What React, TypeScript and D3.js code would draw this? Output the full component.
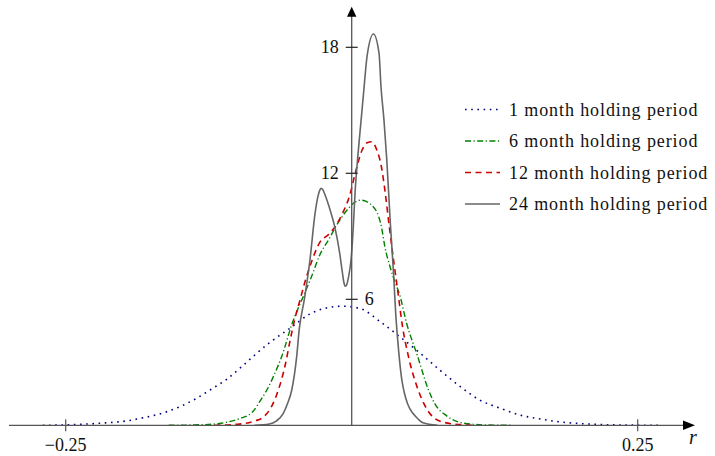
import React from 'react';
import * as d3 from 'd3';

// values: [r, density]
const oneMonth: [number, number][] = [
  [-0.27, 0], [-0.24, 0.04], [-0.22, 0.1], [-0.198, 0.2], [-0.182, 0.36], [-0.166, 0.57],
  [-0.15, 0.89], [-0.1355, 1.29], [-0.1224, 1.73], [-0.109, 2.2], [-0.096, 2.8], [-0.083, 3.43],
  [-0.0714, 3.95], [-0.054, 4.62], [-0.0365, 5.3], [-0.025, 5.55], [-0.008, 5.67], [0.007, 5.57],
  [0.025, 4.93], [0.042, 4.22], [0.06, 3.43], [0.077, 2.63], [0.095, 1.84], [0.112, 1.2],
  [0.13, 0.81], [0.147, 0.49], [0.165, 0.3], [0.182, 0.16], [0.2, 0.08], [0.23, 0.02], [0.268, 0],
];

const sixMonth: [number, number][] = [
  [-0.16, 0], [-0.13, 0.03], [-0.114, 0.1], [-0.099, 0.3], [-0.087, 0.62], [-0.079, 1.25],
  [-0.073, 1.8], [-0.067, 2.5], [-0.061, 3.3], [-0.052, 4.86], [-0.045, 5.8], [-0.041, 6.3],
  [-0.035, 7.1], [-0.028, 8.1], [-0.02, 8.85], [-0.013, 9.55], [-0.004, 10.25], [0.002, 10.6],
  [0.008, 10.72], [0.013, 10.65], [0.018, 10.45], [0.022, 10.15], [0.026, 9.45], [0.029, 8.5],
  [0.0335, 7.55], [0.038, 6.8], [0.042, 6.2], [0.048, 4.86], [0.0577, 3.27], [0.067, 1.7],
  [0.073, 1.0], [0.083, 0.45], [0.096, 0.12], [0.115, 0.02], [0.14, 0],
];

const twelveMonth: [number, number][] = [
  [-0.12, 0], [-0.1, 0.05], [-0.085, 0.2], [-0.077, 0.4], [-0.07, 0.9], [-0.064, 1.7],
  [-0.058, 2.9], [-0.054, 4.0], [-0.05, 5.0], [-0.045, 6.0], [-0.041, 6.8], [-0.035, 7.8],
  [-0.028, 8.7], [-0.02, 9.1], [-0.014, 9.5], [-0.008, 10.1], [-0.002, 10.9], [0.004, 12.2],
  [0.009, 13.1], [0.0135, 13.45], [0.0175, 13.5], [0.022, 13.1], [0.026, 12.3], [0.029, 11.2],
  [0.033, 9.4], [0.0365, 7.9], [0.0405, 6.3], [0.044, 4.85], [0.0495, 3.3], [0.058, 1.7],
  [0.07, 0.45], [0.08, 0.15], [0.095, 0.03], [0.105, 0],
];

const twentyFourMonth: [number, number][] = [
  [-0.085, 0], [-0.072, 0.06], [-0.066, 0.2], [-0.0598, 0.57], [-0.056, 1.05], [-0.0524, 1.68],
  [-0.0481, 3.27], [-0.0458, 4.6], [-0.0414, 6.0], [-0.0365, 7.87], [-0.032, 10.1], [-0.0295, 10.9],
  [-0.0282, 11.15], [-0.0268, 11.28], [-0.0252, 11.22], [-0.0235, 11.0], [-0.02, 10.45],
  [-0.0146, 9.4], [-0.0105, 8.2], [-0.0082, 7.3], [-0.0068, 6.8], [-0.0056, 6.62], [-0.0043, 6.7],
  [-0.003, 7.0], [-0.0006, 7.87], [0.0014, 9.46], [0.0029, 11.05], [0.0055, 12.9], [0.008, 14.4],
  [0.0105, 15.9], [0.0135, 17.6], [0.019, 18.63], [0.0239, 17.71], [0.0256, 16.12], [0.0282, 14.54],
  [0.0306, 12.7], [0.0338, 9.6], [0.0365, 7.3], [0.0385, 5.3], [0.04, 4.2], [0.042, 3.0],
  [0.044, 2.1], [0.046, 1.55], [0.049, 1.0], [0.0535, 0.57], [0.058, 0.3], [0.0623, 0.12], [0.075, 0],
];

const xTicks = [-0.25, 0.25];
const xTickLabels = ['\u22120.25', '0.25'];
const yTicks = [6, 12, 18];

const series = [
  { label: '1 month holding period', data: oneMonth, color: '#000080', dash: '1.6 4.6', width: 1.6 },
  { label: '6 month holding period', data: sixMonth, color: '#008000', dash: '6 2.5 1.2 2.5', width: 1.4 },
  { label: '12 month holding period', data: twelveMonth, color: '#cc0000', dash: '6 4.5', width: 1.6 },
  { label: '24 month holding period', data: twentyFourMonth, color: '#666666', dash: null, width: 1.6 },
];

const font = '"Liberation Serif", serif';

export default function App() {
  const width = 715;
  const height = 456;

  const x = d3.scaleLinear().domain([-0.25, 0.25]).range([65.7, 637.7]);
  const y = d3.scaleLinear().domain([0, 18]).range([425.3, 47.3]);

  const line = d3.line<[number, number]>()
    .x(d => x(d[0]))
    .y(d => y(d[1]))
    .curve(d3.curveMonotoneX);

  const x0 = x(0);
  const y0 = y(0);

  return (
    <svg width={width} height={height} style={{ position: 'absolute', left: 0, top: 0, background: '#fff' }}>
      {/* curves */}
      {series.map(s => (
        <path key={s.label} d={line(s.data) || ''} fill="none" stroke={s.color}
          strokeWidth={s.width} strokeDasharray={s.dash || undefined} />
      ))}

      {/* axes */}
      <line x1={9} x2={686} y1={y0} y2={y0} stroke="#555" strokeWidth={1.3} />
      <path d={`M695,${y0} L683,${y0 - 4.7} L683,${y0 + 4.7} Z`} fill="#000" />
      <line x1={x0} x2={x0} y1={y0} y2={15} stroke="#555" strokeWidth={1.3} />
      <path d={`M${x0},6.7 L${x0 - 4.7},16.7 L${x0 + 4.7},16.7 Z`} fill="#000" />

      {xTicks.map((t, i) => (
        <g key={t}>
          <line x1={x(t)} x2={x(t)} y1={y0 - 6} y2={y0 + 6} stroke="#555" strokeWidth={1.2} />
          <text x={x(t)} y={y0 + 20} textAnchor="middle" dominantBaseline="central"
            fontFamily={font} fontSize={18} fill="#111">{xTickLabels[i]}</text>
        </g>
      ))}
      {yTicks.map(t => (
        <g key={t}>
          <line x1={x0 - 6} x2={x0 + 6} y1={y(t)} y2={y(t)} stroke="#222" strokeWidth={1.2} />
          {t === 6 ? (
            <text x={x0 + 13} y={y(t)} textAnchor="start" dominantBaseline="central"
              fontFamily={font} fontSize={18} fill="#111">{t}</text>
          ) : (
            <text x={x0 - 13} y={y(t)} textAnchor="end" dominantBaseline="central"
              fontFamily={font} fontSize={18} fill="#111">{t}</text>
          )}
        </g>
      ))}
      <text x={693} y={437} textAnchor="middle" dominantBaseline="central"
        fontFamily={font} fontStyle="italic" fontSize={20} fill="#111">r</text>

      {/* legend */}
      {series.map((s, i) => {
        const ly = 109.5 + i * 31.5;
        return (
          <g key={'lg' + i}>
            <line x1={465} x2={500} y1={ly} y2={ly} stroke={s.color} strokeWidth={s.width}
              strokeDasharray={s.dash || undefined} />
            <text x={509} y={ly} dominantBaseline="central" fontFamily={font} fontSize={18}
              letterSpacing={0.9} fill="#111">
              {s.label}
            </text>
          </g>
        );
      })}
    </svg>
  );
}
